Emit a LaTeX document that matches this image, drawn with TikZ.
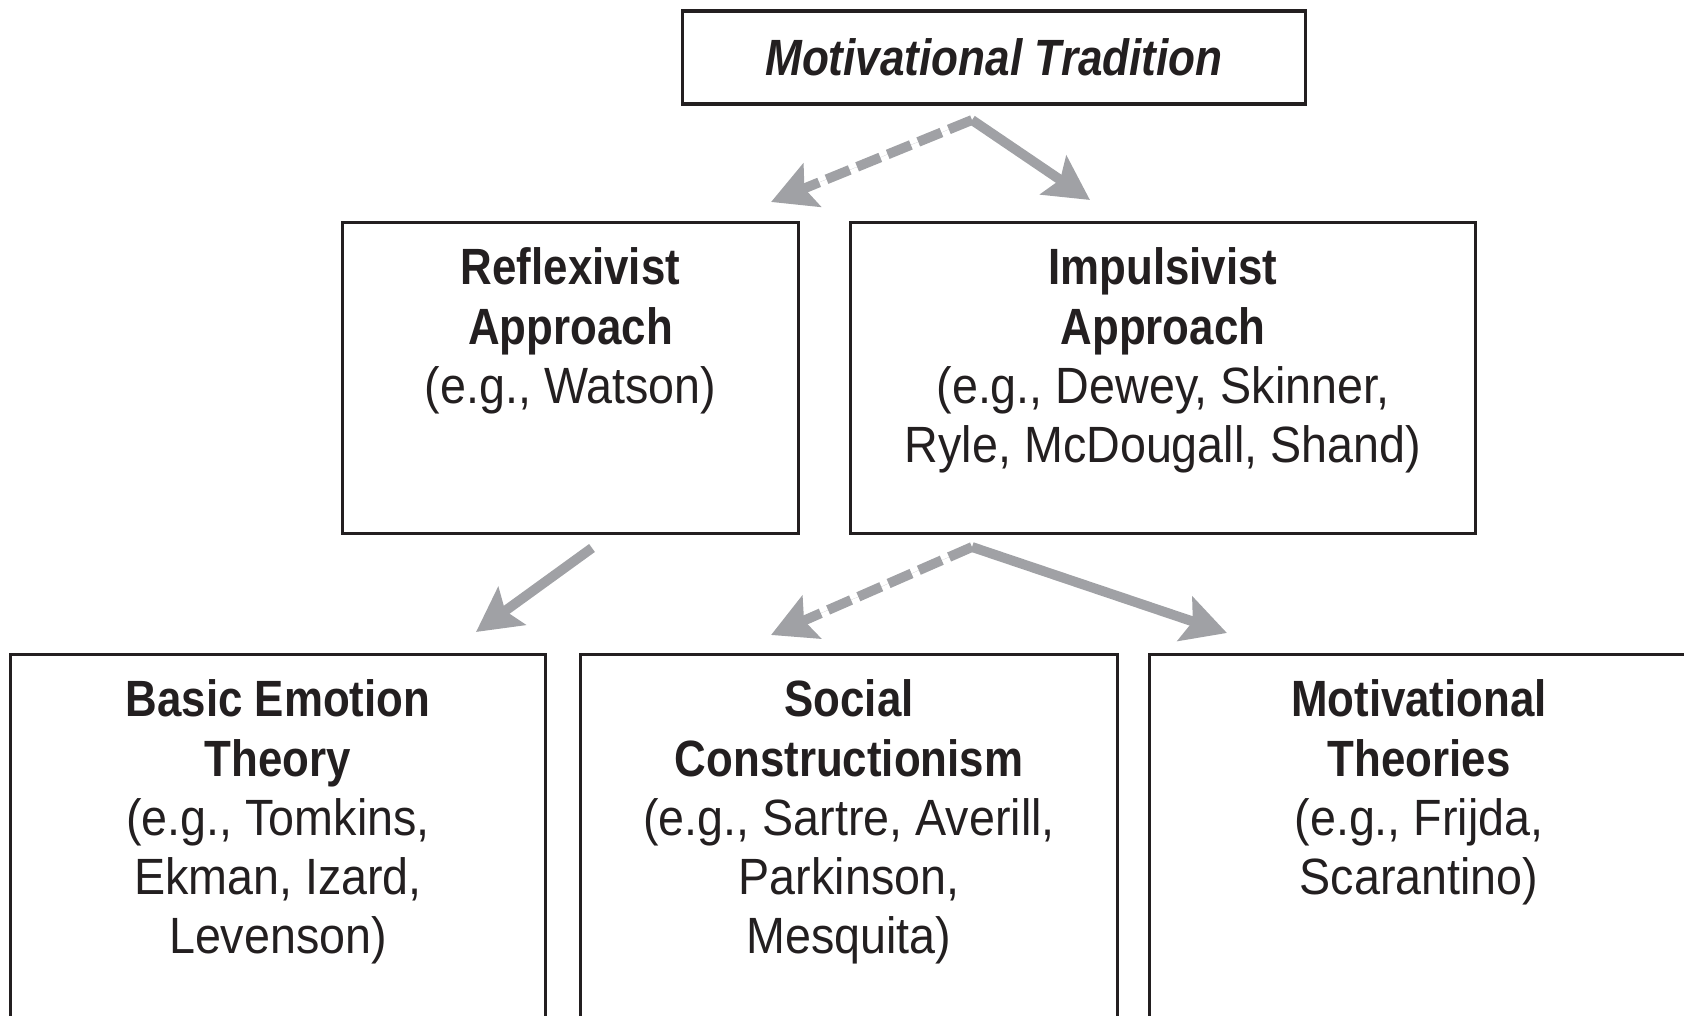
\documentclass[tikz,border=0pt]{standalone}
\usepackage{fontspec}
\setmainfont{Liberation Sans}[FakeStretch=0.915,
  BoldFeatures={FakeStretch=0.86},BoldItalicFeatures={FakeStretch=0.865}]
\usetikzlibrary{arrows.meta,positioning}
\definecolor{arrgray}{HTML}{A0A1A5}
\definecolor{inkblack}{HTML}{231F20}

\begin{document}
\begin{tikzpicture}[x=0.01cm,y=-0.01cm]
    \tikzset{>={Stealth[length=0.44cm,width=0.46cm,inset=0.08cm]}}
    \tikzset{box/.style={draw=inkblack,line width=0.9pt,inner sep=0pt}}
    \tikzset{txt/.style={anchor=north,align=center,inner sep=0pt,text=inkblack,
        font=\fontsize{14.5pt}{16.8pt}\selectfont}}
    \tikzset{arr/.style={->,draw=arrgray,fill=arrgray,line width=2.8pt}}
    \tikzset{dasharr/.style={arr,dash pattern=on 0.25cm off 0.08cm}}
  %\draw[step=100,gray,very thin] (0,0) grid (1684,1016);
  \clip (0,0) rectangle (1684,1016);

  % top
  \node[box,minimum width=6.22cm,minimum height=0.93cm,txt,anchor=center] (MT) at (994,57.5)
      {\textbf{\textit{Motivational Tradition}}};

  % middle row
  \node[box,minimum width=4.55cm,minimum height=3.10cm] (RA) at (570.5,378) {};
  \node[txt] (RAtxt) at ([yshift=-0.26cm]RA.north)
      {\textbf{Reflexivist}\\\textbf{Approach}\\(e.g., Watson)};

  \node[box,minimum width=6.24cm,minimum height=3.10cm] (IA) at (1163,378) {};
  \node[txt] (IAtxt) at ([yshift=-0.26cm]IA.north)
      {\textbf{Impulsivist}\\\textbf{Approach}\\(e.g., Dewey, Skinner,\\Ryle, McDougall, Shand)};

  % bottom row
  \node[box,minimum width=5.34cm,minimum height=3.75cm] (BE) at (278,842.5) {};
  \node[txt] (BEtxt) at ([yshift=-0.26cm]BE.north)
      {\textbf{Basic Emotion}\\\textbf{Theory}\\(e.g., Tomkins,\\Ekman, Izard,\\Levenson)};

  \node[box,minimum width=5.36cm,minimum height=3.75cm] (SC) at (849,842.5) {};
  \node[txt] (SCtxt) at ([yshift=-0.26cm]SC.north)
      {\textbf{Social}\\\textbf{Constructionism}\\(e.g., Sartre, Averill,\\Parkinson,\\Mesquita)};

  \node[box,minimum width=5.38cm,minimum height=3.75cm] (MO) at (1419,842.5) {};
  \node[txt] (MOtxt) at ([yshift=-0.26cm]MO.north)
      {\textbf{Motivational}\\\textbf{Theories}\\(e.g., Frijda,\\Scarantino)};

  % arrow ends
  \coordinate (MTfork) at (972,120);
  \coordinate (RAend) at (771,202);
  \coordinate (IAend) at (1090,200);
  \coordinate (RAstart) at (592,548);
  \coordinate (BEend) at (476,632);
  \coordinate (IAfork) at (972,547);
  \coordinate (SCend) at (771,635);
  \coordinate (MOend) at (1227,633);

  \draw[dasharr] (MTfork) -- (RAend);
  \draw[arr] (MTfork) -- (IAend);
  \draw[arr] (RAstart) -- (BEend);
  \draw[dasharr] (IAfork) -- (SCend);
  \draw[arr] (IAfork) -- (MOend);

\end{tikzpicture}
\end{document}
